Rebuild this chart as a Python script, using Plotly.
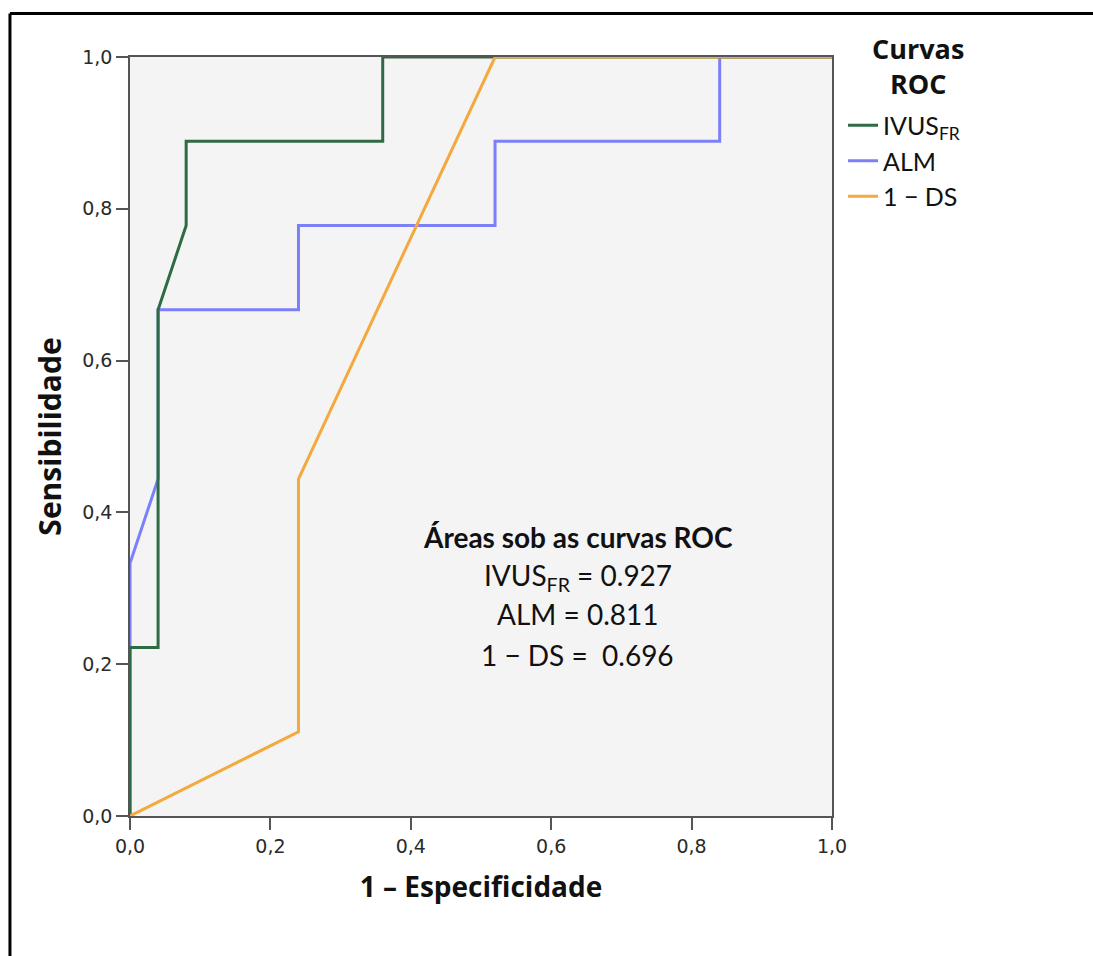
import plotly.graph_objects as go

# ROC curve coordinates (1 - specificity, sensitivity)
ivus_fpr = [0.0, 0.0, 0.04, 0.04, 0.08, 0.08, 0.36, 0.36, 1.0]
ivus_tpr = [0.0, 0.222, 0.222, 0.667, 0.778, 0.889, 0.889, 1.0, 1.0]

alm_fpr = [0.0, 0.0, 0.04, 0.04, 0.24, 0.24, 0.52, 0.52, 0.84, 0.84, 1.0]
alm_tpr = [0.0, 0.333, 0.444, 0.667, 0.667, 0.778, 0.778, 0.889, 0.889, 1.0, 1.0]

ds_fpr = [0.0, 0.24, 0.24, 0.52, 1.0]
ds_tpr = [0.0, 0.111, 0.444, 1.0, 1.0]

series_names = ["IVUS<sub>FR</sub>", "ALM", "1 \u2212 DS"]
series_colors = ["#2e6a43", "#7b80f8", "#f4a93e"]

auc_values = ["0.927", "0.811", " 0.696"]

tick_vals = [0.0, 0.2, 0.4, 0.6, 0.8, 1.0]
tick_text = ["0,0", "0,2", "0,4", "0,6", "0,8", "1,0"]

TEXT_FONT = "Lato"
TITLE_FONT = "Open Sans"
TICK_FONT = "DejaVu Sans"

fig = go.Figure()

# drawing order: ALM underneath, then IVUS, then 1 - DS on top
fig.add_trace(go.Scatter(x=alm_fpr, y=alm_tpr, mode="lines", name=series_names[1],
                         line=dict(color=series_colors[1], width=3), legendrank=2,
                         cliponaxis=False))
fig.add_trace(go.Scatter(x=ivus_fpr, y=ivus_tpr, mode="lines", name=series_names[0],
                         line=dict(color=series_colors[0], width=3), legendrank=1,
                         cliponaxis=False))
fig.add_trace(go.Scatter(x=ds_fpr, y=ds_tpr, mode="lines", name=series_names[2],
                         line=dict(color=series_colors[2], width=3), legendrank=3,
                         cliponaxis=False))

axis_common = dict(
    range=[0, 1], tickvals=tick_vals, ticktext=tick_text,
    showgrid=False, zeroline=False, showline=True, mirror=True,
    linecolor="#555555", linewidth=1.5,
    ticks="outside", ticklen=12, tickwidth=1.5, tickcolor="#555555",
    tickfont=dict(family=TICK_FONT, size=19, color="#2a2a2a"),
)

fig.update_layout(
    width=1093, height=956,
    margin=dict(l=130, r=261, t=57, b=140),
    paper_bgcolor="white", plot_bgcolor="#f4f4f4",
    xaxis=dict(**axis_common,
               title=dict(text="<b>1 \u2013 Especificidade</b>", standoff=22,
                          font=dict(family=TITLE_FONT, size=28, color="#111111"))),
    yaxis=dict(**axis_common,
               title=dict(text="<b>Sensibilidade</b>", standoff=12,
                          font=dict(family=TITLE_FONT, size=30, color="#111111"))),
    legend=dict(
        x=1.0157, xanchor="left", y=0.94, yanchor="top",
        bgcolor="rgba(0,0,0,0)",
        font=dict(family=TEXT_FONT, size=25, color="#111111"),
        tracegroupgap=0,
    ),
    showlegend=True,
)

# legend heading
fig.add_annotation(x=1.1225, y=0.9875, xref="paper", yref="paper",
                   text="<b>Curvas<br>ROC</b>", showarrow=False,
                   xanchor="center", yanchor="middle", align="center",
                   font=dict(family=TITLE_FONT, size=27, color="#111111"))

# area-under-curve summary
auc_lines = ["<b>\u00c1reas sob as curvas ROC</b>"] + [
    f"{n} = {v}" for n, v in zip(series_names, auc_values)
]
auc_y = [0.368, 0.315, 0.266, 0.212]
for txt, yy in zip(auc_lines, auc_y):
    fig.add_annotation(x=0.638, y=yy, xref="x", yref="y", text=txt, showarrow=False,
                       xanchor="center", yanchor="middle",
                       font=dict(family=TEXT_FONT, size=28, color="#111111"))

# outer frame (top and left edges)
fig.add_shape(type="line", xref="paper", yref="paper", x0=-0.171, x1=1.4,
              y0=1.0573, y1=1.0573, line=dict(color="black", width=3))
fig.add_shape(type="line", xref="paper", yref="paper", x0=-0.171, x1=-0.171,
              y0=1.0573, y1=-0.2, line=dict(color="black", width=3))

fig.write_html("out.html")
